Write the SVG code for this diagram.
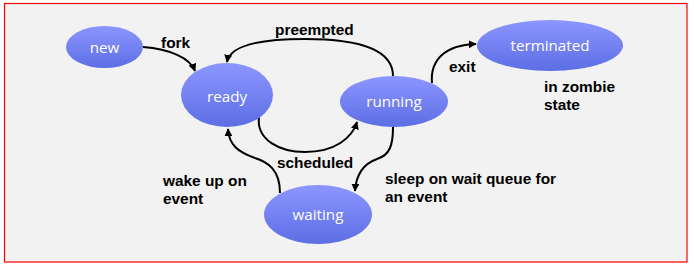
<svg xmlns="http://www.w3.org/2000/svg" width="694" height="271" viewBox="0 0 694 271">
<defs>
<linearGradient id="g" x1="0" y1="0" x2="0" y2="1">
<stop offset="0" stop-color="#8c96ff"/>
<stop offset="1" stop-color="#5d6ee4"/>
</linearGradient>
<marker id="ah" viewBox="0 0 10 10" refX="9" refY="5" markerWidth="4" markerHeight="4" orient="auto" markerUnits="strokeWidth">
<path d="M0,0 L10,5 L0,10 z" fill="#000"/>
</marker>
<style>
.node{fill:url(#g);}
.nt{font-family:"Open Sans","Noto Sans",sans-serif;font-size:15.2px;fill:#fff;text-anchor:middle;}
.lb{font-family:"Liberation Sans",Arial,sans-serif;font-size:15.4px;font-weight:bold;fill:#000;}
.c{fill:none;stroke:#000;stroke-width:2;marker-end:url(#ah);}
</style>
</defs>
<rect x="4.5" y="3.5" width="682.5" height="258.5" fill="#f2f2f2" stroke="#ff0000" stroke-width="1.2"/>
<g id="connectors">
<path class="c" d="M143,47 C170,49 190,58 195,71"/>
<path class="c" d="M393,76 C393,50 360,39 305,39 C260,39 230,45 227,62"/>
<path class="c" d="M259,117 C256,140 280,152 305,152 C335,152 352,138 357,122"/>
<path class="c" d="M393,127 C393,145 390,155 377,159 C363,164 356,175 355,191"/>
<path class="c" d="M280,193 C280,170 268,162 255,158 C238,152 229,145 228,129"/>
<path class="c" d="M432,83 C430,60 445,45 476,44"/>
</g>
<g id="new"><ellipse class="node" cx="104.5" cy="47" rx="38.5" ry="21"/><text class="nt" x="104.5" y="52.5">new</text></g>
<g id="ready"><ellipse class="node" cx="227" cy="95" rx="46" ry="32"/><text class="nt" x="227" y="102">ready</text></g>
<g id="running"><ellipse class="node" cx="394" cy="101.5" rx="54" ry="25.5"/><text class="nt" x="394" y="107">running</text></g>
<g id="terminated"><ellipse class="node" cx="550" cy="45.5" rx="73" ry="25.5"/><text class="nt" x="550" y="51">terminated</text></g>
<g id="waiting"><ellipse class="node" cx="318" cy="214.5" rx="54" ry="29.5"/><text class="nt" x="318" y="220">waiting</text></g>
<g id="labels">
<text class="lb" x="161" y="48">fork</text>
<text class="lb" x="275" y="35">preempted</text>
<text class="lb" x="449" y="72">exit</text>
<text class="lb" x="544" y="92">in zombie</text>
<text class="lb" x="544" y="110">state</text>
<text class="lb" x="277" y="168">scheduled</text>
<text class="lb" x="163" y="186">wake up on</text>
<text class="lb" x="163" y="204">event</text>
<text class="lb" x="385" y="184">sleep on wait queue for</text>
<text class="lb" x="385" y="202">an event</text>
</g>
</svg>
